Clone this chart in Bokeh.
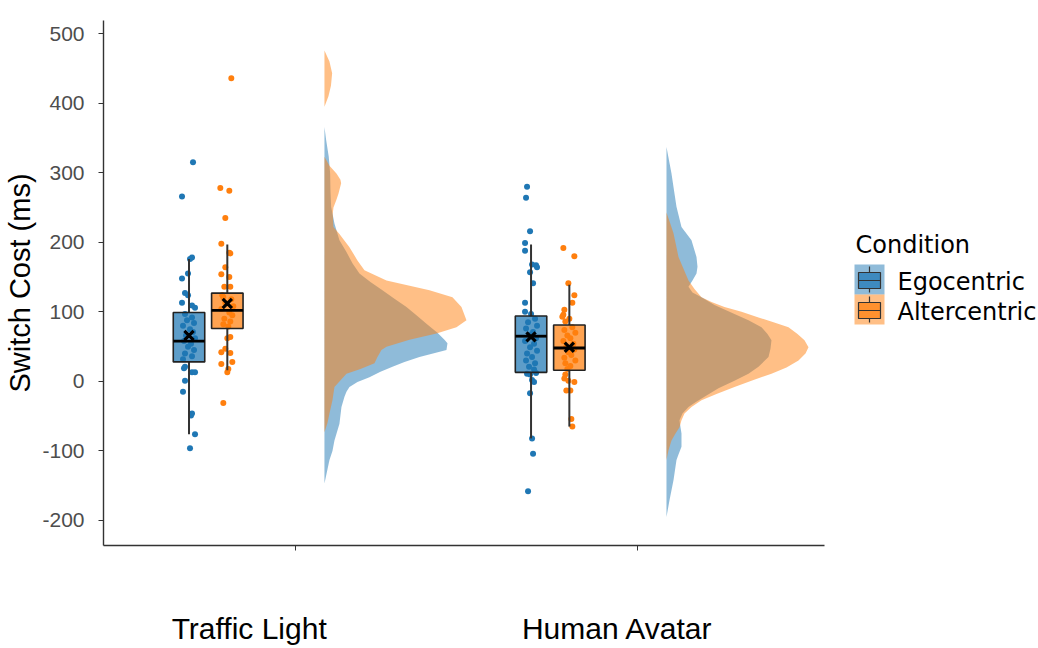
import numpy as np
from bokeh.plotting import figure
from bokeh.models import Range1d, FixedTicker, LinearAxis
from bokeh.layouts import row
from bokeh.embed import file_html
from bokeh.resources import INLINE
from bokeh.core.properties import value

# ---------------- data ----------------
categories = ["Traffic Light", "Human Avatar"]
conditions = ["Egocentric", "Altercentric"]
cond_colors = ["#1F77B4", "#FF7F0E"]
y_ticks = [-200, -100, 0, 100, 200, 300, 400, 500]

# box statistics, order: TL-Ego, TL-Alt, HA-Ego, HA-Alt
box_cat = [0, 0, 1, 1]
box_cond = [0, 1, 0, 1]
box_q1 = [28, 76, 13, 16]
box_median = [58, 102, 65, 48]
box_q3 = [99, 127, 94, 81]
box_whisk_lo = [-76, 16, -82, -65]
box_whisk_hi = [176, 197, 197, 139]
box_mean = [66, 112, 64, 49]

# individual participants (switch cost, ms) and horizontal jitter (px)
tl_ego_vals = [315, 266, 178, 176, 155, 148, 127, 124, 113, 109, 106,
               97, 92, 88, 84, 80, 75, 71, 66, 62, 58, 54, 50, 45, 40, 36, 32,
               21, 19, 13, 13, 1, -15, -46, -49, -76, -96]
tl_ego_jit = [4, -7, 3, 1, -1, -7, -4, -1, -7, 3, 6,
              -4, 3, -2, 5, -6, 1, 4, -3, 6, -5, 2, -1, 5, -4, 3, -6,
              -4, -5, 3, 6, -4, -6, 3, 2, 6, 1]
tl_alt_vals = [436, 278, 274, 235, 198, 185, 184, 164, 154, 150, 136, 136,
               124, 121, 118, 113, 108, 104, 99, 95, 90, 86, 82, 79,
               64, 62, 47, 42, 41, 28, 25, 18, 13, -31]
tl_alt_jit = [4, -7, 2, -2, -6, 2, 3, -2, -6, 2, 3, -3,
              -5, -4, 4, -2, 6, -6, 2, 5, -3, 3, -4, 1,
              3, 0, -2, -6, 3, 5, -6, 1, 0, -4]
ha_ego_vals = [280, 264, 216, 199, 188, 168, 167, 164, 157, 141, 113, 100, 97,
               90, 85, 80, 76, 71, 67, 62, 58, 54, 49, 44, 40, 35, 30, 26, 21, 17,
               12, 11, 10, 2, -1, -17, -82, -104, -158]
ha_ego_jit = [-4, -5, -1, -6, -6, 1, 5, 6, -1, 2, -6, -6, 0,
              4, -3, 6, -5, 2, -2, 5, -6, 3, -1, 6, -4, 1, -5, 4, -2, 3,
              5, -4, -1, 1, 3, -1, 1, 2, -3]
ha_alt_vals = [192, 180, 141, 124, 113, 103, 96, 93, 90, 86,
               78, 74, 70, 66, 62, 58, 54, 50, 46, 42, 38, 34, 30, 26, 22, 18,
               10, 4, 1, -1, -13, -13, -54, -65]
ha_alt_jit = [-6, 5, -1, 5, 3, -5, -6, -7, 0, -4,
              3, -5, 6, -2, 1, -6, 4, -3, 5, -1, 2, -5, 6, -4, 1, -2,
              -4, -5, -1, 5, -3, 1, 2, 3]
point_vals = [tl_ego_vals, tl_alt_vals, ha_ego_vals, ha_alt_vals]
point_jit = [tl_ego_jit, tl_alt_jit, ha_ego_jit, ha_alt_jit]

# half-violin densities: value (ms) and half-width (in px at this scale)
tl_ego_dens_y = [366, 347, 323, 299, 275, 251, 227, 203, 186, 170, 155, 143, 131, 119,
                 107, 95, 83, 70, 60, 55, 45, 35, 28, 21, 14, 6, -1, -8, -15, -22,
                 -37, -61, -85, -100, -113, -130, -147]
tl_ego_dens_w = [0, 1.7, 4.3, 5.7, 6, 6.7, 10, 15, 22, 28, 35, 46, 58, 70,
                 82, 92, 102, 113, 120, 123, 122, 95, 80, 68, 56, 45, 33, 25, 22, 20,
                 17, 15, 10, 8, 5, 2.5, 0]
tl_alt_dens_y = [476, 460, 443, 425, 410, 395, 335, 323, 310, 299, 290, 285, 270, 260,
                 250, 241, 222, 212, 193, 174, 160, 145, 131, 121, 107, 88, 78, 69,
                 60, 50, 45, 35, 26, 18, 11, -8, -27, -46, -60, -73]
tl_alt_dens_w = [0, 5, 7.7, 6.5, 4, 0, 0, 0, 5, 12, 16, 16.7, 14, 11.7,
                 9, 8.3, 9, 15, 25, 33, 40, 62, 105, 128, 137, 142, 132, 112,
                 85, 62, 57, 53, 50, 36, 22, 10, 8, 5, 3, 0]
ha_ego_dens_y = [337, 318, 299, 275, 251, 222, 203, 179, 165, 155, 145, 136, 128, 121,
                 110, 97, 88, 78, 68, 59, 47, 35, 21, 11, 1, -10, -22, -30, -37, -46,
                 -56, -66, -75, -94, -105, -113, -142, -171, -195]
ha_ego_dens_w = [0, 2.5, 5, 7.5, 10, 15, 25, 30, 31, 30, 26, 22, 26, 35,
                 48, 68, 82, 95, 101, 105, 104, 102, 92, 82, 68, 52, 38, 29, 22, 16,
                 13, 14, 15, 15, 12, 10, 7, 3, 0]
ha_alt_dens_y = [243, 228, 213, 196, 179, 162, 145, 133, 121, 114, 107, 100, 92, 85,
                 78, 68, 59, 49, 40, 30, 20, 11, 2, -8, -18, -27, -37, -46, -56, -66,
                 -75, -85, -99, -113]
ha_alt_dens_w = [0, 3.5, 7, 9.5, 12, 17, 22, 28, 35, 45, 58, 75, 92, 107,
                 122, 131, 138, 142, 139, 132, 120, 105, 87, 68, 50, 35, 25, 18, 15, 13,
                 9, 5, 2, 0]
dens_y = [tl_ego_dens_y, tl_alt_dens_y, ha_ego_dens_y, ha_alt_dens_y]
dens_w = [tl_ego_dens_w, tl_alt_dens_w, ha_ego_dens_w, ha_alt_dens_w]

# ---------------- layout constants (style) ----------------
PX_PER_UNIT = 342.0
BOX_SHIFT = -0.255
DODGE = 0.056
BOX_W = 0.092
VIOLIN_SHIFT = 0.085
label_shift = [-0.135, -0.058]
FONT = "Liberation Sans"

p = figure(width=835, height=648, output_backend="svg", toolbar_location=None,
           x_range=Range1d(0.439, 2.547), y_range=Range1d(-236, 519),
           min_border_left=103, min_border_right=11, min_border_top=20,
           min_border_bottom=103)
p.outline_line_color = None
p.grid.visible = False
p.background_fill_color = "white"
p.border_fill_color = "white"

# densities (blue first, orange on top)
for k in [0, 2, 1, 3]:
    base = box_cat[k] + 1 + VIOLIN_SHIFT
    ys = np.array(dens_y[k], dtype=float)
    ws = np.array(dens_w[k], dtype=float) / PX_PER_UNIT
    p.harea(y=ys, x1=np.full_like(ys, base), x2=base + ws,
            fill_color=cond_colors[box_cond[k]], fill_alpha=0.5)

# points, then boxes
for k in range(4):
    cx = box_cat[k] + 1 + BOX_SHIFT + (DODGE if box_cond[k] == 1 else -DODGE)
    xs = cx + np.array(point_jit[k], dtype=float) / PX_PER_UNIT
    p.scatter(xs, point_vals[k], size=6, color=cond_colors[box_cond[k]],
              line_width=0)

for k in range(4):
    cx = box_cat[k] + 1 + BOX_SHIFT + (DODGE if box_cond[k] == 1 else -DODGE)
    col = cond_colors[box_cond[k]]
    p.segment([cx, cx], [box_whisk_lo[k], box_q3[k]], [cx, cx], [box_q1[k], box_whisk_hi[k]],
              line_color="#333333", line_width=2)
    p.quad(left=[cx - BOX_W / 2], right=[cx + BOX_W / 2], bottom=[box_q1[k]], top=[box_q3[k]],
           fill_color=col, fill_alpha=0.72, line_color="#222222", line_width=1.6)
    p.segment([cx - BOX_W / 2], [box_median[k]], [cx + BOX_W / 2], [box_median[k]],
              line_color="black", line_width=2.8)
    p.scatter([cx], [box_mean[k]], marker="x", size=13, line_color="black", line_width=3.2)

# y axis
p.yaxis.ticker = FixedTicker(ticks=y_ticks)
p.yaxis.major_label_overrides = {t: str(t) for t in y_ticks}
p.yaxis.axis_label = "Switch Cost (ms)"
p.yaxis.axis_label_text_font = FONT
p.yaxis.axis_label_text_font_size = "29px"
p.yaxis.axis_label_text_font_style = "normal"
p.yaxis.axis_label_text_color = "black"
p.yaxis.axis_label_standoff = 3
p.yaxis.major_label_text_font = FONT
p.yaxis.major_label_text_font_size = "21px"
p.yaxis.major_label_text_color = "#4D4D4D"
p.yaxis.major_label_standoff = 14
p.yaxis.minor_tick_line_color = None
p.yaxis.major_tick_in = 0
p.yaxis.major_tick_out = 5
p.yaxis.major_tick_line_color = "#333333"
p.yaxis.axis_line_color = "#333333"
p.yaxis.axis_line_width = 1.4

# x axis: tick marks at the category positions (no tick text)
p.xaxis.ticker = FixedTicker(ticks=[1, 2])
p.xaxis.major_label_text_font_size = "1px"
p.xaxis.major_label_text_color = None
p.xaxis.major_label_standoff = 0
p.xaxis.minor_tick_line_color = None
p.xaxis.major_tick_in = 0
p.xaxis.major_tick_out = 5
p.xaxis.major_tick_line_color = "#333333"
p.xaxis.axis_line_color = "#333333"
p.xaxis.axis_line_width = 1.4

# category names, set lower on their own axis
label_pos = [i + 1 + label_shift[i] for i in range(len(categories))]
cat_axis = LinearAxis(ticker=FixedTicker(ticks=label_pos),
                      major_label_overrides={pos: cat for pos, cat in zip(label_pos, categories)})
cat_axis.axis_line_color = None
cat_axis.major_tick_line_color = None
cat_axis.minor_tick_line_color = None
cat_axis.major_tick_out = 0
cat_axis.major_tick_in = 0
cat_axis.major_label_standoff = 61
cat_axis.major_label_text_font = FONT
cat_axis.major_label_text_font_size = "30px"
cat_axis.major_label_text_color = "black"
p.add_layout(cat_axis, "below")

# ---------------- legend panel (its frame is aligned with the main frame) ----------------
leg = figure(width=203, height=648, output_backend="svg", toolbar_location=None,
             x_axis_type=None, y_axis_type=None, title=None,
             x_range=Range1d(835, 1038), y_range=Range1d(545, 20),
             min_border=0, min_border_left=0, min_border_right=0,
             min_border_top=20, min_border_bottom=103)
leg.grid.visible = False
leg.outline_line_color = None
leg.text(x=[855], y=[244], text=["Condition"], text_font=value("DejaVu Sans"),
         text_font_size="24px", text_baseline="middle", text_align="left", text_color="black")
for i, cond in enumerate(conditions):
    top = 264 + 30 * i
    col = cond_colors[i]
    leg.quad(left=[854], right=[884], top=[top], bottom=[top + 30],
             fill_color=col, fill_alpha=0.5, line_color=None)
    leg.segment([869, 869], [top + 2, top + 24], [869, 869], [top + 8, top + 28],
                line_color="#333333", line_width=1.2)
    leg.quad(left=[858], right=[880], top=[top + 8], bottom=[top + 24],
             fill_color=col, fill_alpha=0.72, line_color="#333333", line_width=1.2)
    leg.segment([858], [top + 16], [880], [top + 16], line_color="#333333", line_width=1.2)
    leg.text(x=[897], y=[top + 17], text=[cond], text_font=value("DejaVu Sans"),
             text_font_size="24px", text_baseline="middle", text_align="left",
             text_color="black")

layout = row(p, leg)
open("out.html", "w").write(file_html(layout, INLINE))
